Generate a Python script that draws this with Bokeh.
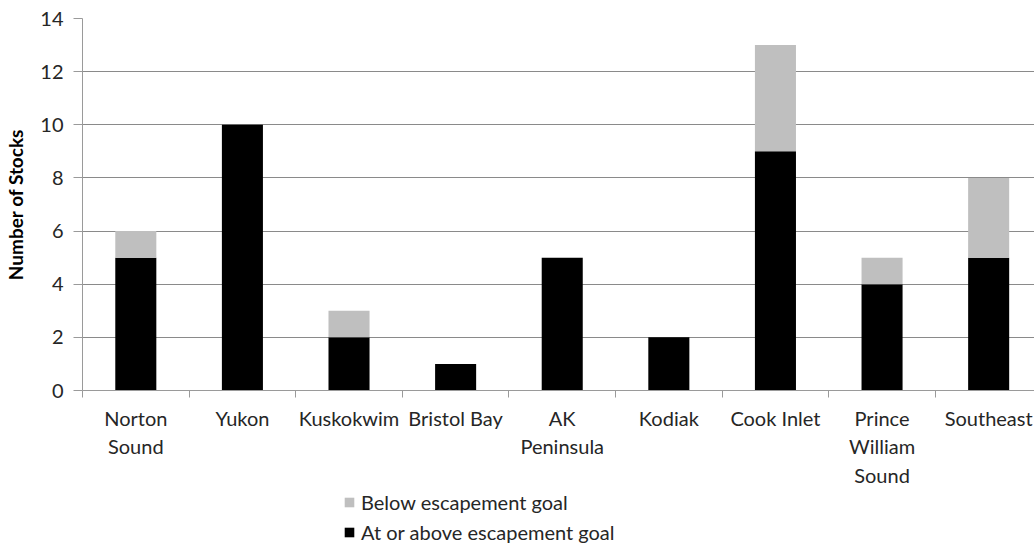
from bokeh.plotting import figure
from bokeh.layouts import column
from bokeh.models import (Range1d, FixedTicker, ColumnDataSource, Legend, LegendItem)
from bokeh.embed import file_html
from bokeh.resources import INLINE

categories = ["Norton\nSound", "Yukon", "Kuskokwim", "Bristol Bay", "AK\nPeninsula",
              "Kodiak", "Cook Inlet", "Prince\nWilliam\nSound", "Southeast"]
at_or_above = [5, 10, 2, 1, 5, 2, 9, 4, 5]
below = [1, 0, 1, 0, 0, 0, 4, 1, 3]
y_ticks = [0, 2, 4, 6, 8, 10, 12, 14]
series_names = ["Below escapement goal", "At or above escapement goal"]

centers = [i + 0.5 for i in range(len(categories))]
bounds = list(range(len(categories) + 1))

src = ColumnDataSource(dict(x=centers, at=at_or_above, below=below))

FONT = "Lato"
TXT = "#262626"
AX = "#9a9a9a"
COLORS = ["#000000", "#bfbfbf"]

p = figure(width=1034, height=490, output_backend="svg", toolbar_location=None,
           x_range=Range1d(0, 8.93), y_range=Range1d(0, 14),
           min_border_left=82, min_border_right=0, min_border_top=18, min_border_bottom=96)
p.outline_line_color = None

rs = p.vbar_stack(["at", "below"], x="x", width=0.385, source=src,
                  color=COLORS, line_color=None)

p.xaxis.ticker = FixedTicker(ticks=centers, minor_ticks=bounds)
p.xaxis.major_label_overrides = {c: lab for c, lab in zip(centers, categories)}
p.xaxis.major_tick_line_color = None
p.xaxis.major_tick_out = 0
p.xaxis.major_tick_in = 0
p.xaxis.minor_tick_line_color = AX
p.xaxis.minor_tick_out = 7
p.xaxis.minor_tick_in = 0
p.xaxis.axis_line_color = AX
p.xaxis.major_label_standoff = 8
p.xaxis.major_label_text_font = FONT
p.xaxis.major_label_text_font_size = "20px"
p.xaxis.major_label_text_color = TXT

p.yaxis.ticker = FixedTicker(ticks=y_ticks)
p.yaxis.minor_tick_line_color = None
p.yaxis.major_tick_out = 9
p.yaxis.major_tick_in = 0
p.yaxis.major_tick_line_color = AX
p.yaxis.axis_line_color = AX
p.yaxis.major_label_standoff = 10
p.yaxis.major_label_text_font = FONT
p.yaxis.major_label_text_font_size = "20px"
p.yaxis.major_label_text_color = TXT
p.yaxis.axis_label = "Number of Stocks"
p.yaxis.axis_label_text_font = FONT
p.yaxis.axis_label_text_font_style = "bold"
p.yaxis.axis_label_text_font_size = "19px"
p.yaxis.axis_label_text_color = "#000000"
p.yaxis.axis_label_standoff = 10

p.xgrid.grid_line_color = None
p.ygrid.grid_line_color = "#8a8a8a"
p.ygrid.ticker = FixedTicker(ticks=y_ticks)

# legend strip below the chart (same series, hidden in this strip)
pl = figure(width=1034, height=54, output_backend="svg", toolbar_location=None,
            x_range=Range1d(100, 108.93), y_range=Range1d(-10, -9),
            x_axis_type=None, y_axis_type=None,
            min_border_left=0, min_border_right=0, min_border_top=0, min_border_bottom=0)
pl.outline_line_color = None
pl.xgrid.grid_line_color = None
pl.ygrid.grid_line_color = None
rl = pl.vbar_stack(["at", "below"], x="x", width=0.385, source=src,
                   color=COLORS, line_color=None)
for r in rl:
    r.visible = False

legend = Legend(items=[LegendItem(label=series_names[0], renderers=[rl[1]]),
                       LegendItem(label=series_names[1], renderers=[rl[0]])],
                location=(261, 0), orientation="vertical", click_policy="none",
                padding=0, margin=0, spacing=6, border_line_color=None,
                background_fill_alpha=0, glyph_width=12, glyph_height=12,
                label_standoff=6, label_height=24,
                label_text_font=FONT, label_text_font_size="20px", label_text_color=TXT)
pl.add_layout(legend, "center")

layout = column(p, pl, spacing=0)
open("out.html", "w").write(file_html(layout, INLINE))
